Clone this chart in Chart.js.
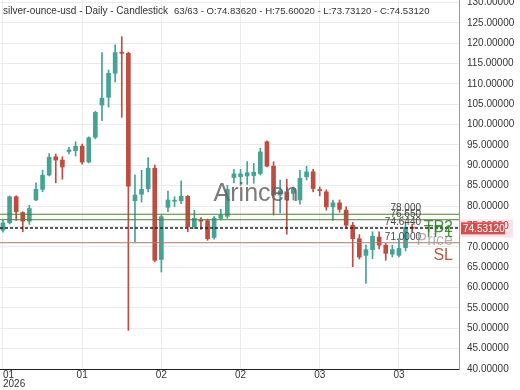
<!DOCTYPE html>
<html>
<head>
<meta charset="utf-8">
<script src="https://cdn.jsdelivr.net/npm/chart.js@4.4.1/dist/chart.umd.min.js"></script>
<style>
  html, body { margin: 0; padding: 0; background: #fff; }
  #candles { display: block; }
</style>
</head>
<body>
<canvas id="candles" width="520" height="390"></canvas>
<script>
/* ================= Data ================= */

const opens  = [74.1, 75.9, 82.3, 78.4, 76.3, 81.5, 84.1, 87.6, 92.1, 91.3,
                93.4, 93.6, 94.7, 90.8, 96.9, 104.8, 106.7, 112.6, 117.8, 117.5,
                81.3, 82.9, 84.3, 89.3, 66.9, 79.7, 81.2, 81.3, 82.4, 74.9,
                76.6, 76.4, 72.3, 77.0, 77.5, 87.0, 87.2, 87.4, 87.5, 88.0,
                95.8, 89.8, 82.7, 83.5, 83.1, 81.5, 87.2, 88.4, 84.0, 83.5,
                79.8, 80.8, 79.0, 75.3, 72.0, 67.9, 69.3, 72.4, 70.4, 68.2,
                67.9, 69.8, 74.8362];
const highs  = [76.5, 82.5, 82.5, 78.6, 80.2, 85.7, 88.8, 92.9, 92.8, 92.1,
                94.4, 95.8, 95.2, 97.0, 103.3, 117.7, 113.4, 119.6, 121.6, 117.8,
                87.6, 88.8, 91.9, 90.1, 77.8, 83.7, 82.3, 86.2, 82.6, 79.0,
                77.2, 76.8, 77.5, 79.2, 85.1, 89.0, 89.0, 90.9, 90.5, 94.2,
                96.0, 90.9, 86.4, 86.6, 84.7, 88.8, 89.8, 89.0, 84.7, 84.0,
                81.5, 81.5, 79.8, 76.0, 73.0, 70.4, 73.7, 73.7, 70.8, 70.4,
                72.0, 75.8, 75.6002];
const lows   = [73.6, 75.6, 76.5, 73.7, 75.5, 81.3, 83.5, 87.4, 85.7, 86.6,
                92.8, 92.3, 90.3, 90.6, 96.5, 101.0, 104.3, 110.5, 101.8, 49.5,
                71.2, 81.0, 83.5, 66.3, 63.8, 78.6, 79.9, 80.6, 73.7, 74.5,
                74.3, 71.6, 71.9, 76.6, 77.0, 85.7, 85.1, 85.3, 85.6, 87.6,
                89.6, 77.8, 78.3, 73.1, 81.5, 80.5, 86.4, 83.5, 82.5, 79.0,
                76.5, 78.5, 74.5, 65.1, 67.0, 61.0, 67.1, 69.5, 66.7, 67.5,
                67.5, 69.0, 73.7312];
const closes = [75.9, 82.3, 78.6, 76.3, 79.4, 84.1, 87.6, 92.0, 91.3, 89.6,
                93.8, 94.7, 90.8, 96.8, 103.0, 106.5, 112.6, 117.7, 117.5, 84.9,
                82.7, 84.1, 89.3, 66.7, 77.4, 81.5, 81.4, 82.4, 74.9, 77.0,
                76.3, 72.0, 77.0, 77.8, 84.1, 87.9, 87.9, 88.2, 88.3, 93.3,
                89.8, 82.7, 83.8, 81.5, 84.3, 86.8, 88.4, 84.3, 83.8, 79.8,
                80.8, 79.2, 75.3, 72.0, 67.5, 69.3, 72.6, 70.4, 68.4, 69.3,
                69.6, 74.8, 74.5312];

const tickBars   = [0, 12, 24, 36, 48, 60];
const tickLabels = [['01', '2026'], '01', '02', '02', '03', '03'];

const levelValues = [78, 76.65, 74.644, 71];
const levelLabels = ['78.000', '76.650', '74.6440', '71.0000'];
const tagLabels   = ['TP2', 'TP1', 'Price', 'SL'];
const lastPrice   = 74.5312;

/* ================= Styles ================= */

const upColor = '#45a396';
const downColor = '#bf4c40';
const levelColors = ['#4f7f2f', '#4f7f2f', '#222222', '#b07a6c'];
const tagColors = ['rgba(40,130,30,0.85)', 'rgba(40,130,30,0.85)', 'rgba(150,150,150,0.7)', 'rgba(176,72,50,0.9)'];
const xMin = -0.45, xMax = 69.1;
const font = "'Liberation Sans', Arial, sans-serif";

const candleColors = opens.map((o, i) => closes[i] >= o ? upColor : downColor);

/* ================= Plugin for texts ================= */

const overlay = {
  id: 'overlay',
  afterDatasetsDraw(chart) {
    const c = chart.ctx;
    const y = chart.scales.y;
    c.save();
    // watermark
    c.font = '25px ' + font;
    c.fillStyle = 'rgba(100,100,100,0.85)';
    c.textAlign = 'center';
    c.textBaseline = 'middle';
    c.fillText('Arincen', 256, 194);

    // level labels
    c.font = '10px ' + font;
    c.fillStyle = '#444';
    c.textAlign = 'right';
    c.textBaseline = 'bottom';
    levelValues.forEach((v, i) => {
      c.fillText(levelLabels[i], 421, y.getPixelForValue(v) - 0.5);
    });

    // big tags
    c.font = '16px ' + font;
    c.textBaseline = 'middle';
    levelValues.forEach((v, i) => {
      c.fillStyle = tagColors[i];
      c.fillText(tagLabels[i], 453, y.getPixelForValue(v) + 13);
    });
    c.restore();
  },
  afterDraw(chart) {
    const c = chart.ctx;
    const y = chart.scales.y;
    c.save();
    // header
    c.font = '10px ' + font;
    c.fillStyle = '#333';
    c.textAlign = 'left';
    c.textBaseline = 'middle';
    c.fillText('silver-ounce-usd - Daily - Candlestick', 3, 11);
    c.font = '9.6px ' + font;
    c.fillText('63/63 - O:74.83620 - H:75.60020 - L:73.73120 - C:74.53120', 174, 11);

    // last price box
    const py = y.getPixelForValue(lastPrice);
    c.fillStyle = 'rgba(255,160,180,0.3)';
    c.fillRect(459, py - 9, 54, 18);
    c.fillStyle = '#d24f4f';
    c.fillRect(461, py - 6, 44, 12);
    c.font = '10px ' + font;
    c.fillStyle = '#fff';
    c.fillText(lastPrice.toFixed(5), 463, py + 0.5);
    c.restore();
  }
};

/* ================= Candlestick Chart ================= */

const ctx = document.getElementById('candles');

Chart.defaults.font.family = font;
Chart.defaults.font.size = 10;
Chart.defaults.color = '#333';

new Chart(ctx, {
  type: 'bar',
  data: {
    datasets: [
      {
        label: 'body',
        data: opens.map((o, i) => ({ x: i, y: [o, closes[i]] })),
        backgroundColor: candleColors,
        barThickness: 4,
        minBarLength: 1,
        grouped: false,
        order: 2
      },
      {
        label: 'wick',
        data: lows.map((l, i) => ({ x: i, y: [l, highs[i]] })),
        backgroundColor: candleColors,
        barThickness: 1,
        grouped: false,
        order: 3
      },
      ...levelValues.map((v, i) => ({
        type: 'line',
        label: levelLabels[i],
        data: [{ x: xMin, y: v }, { x: xMax, y: v }],
        borderColor: levelColors[i],
        borderWidth: i === 2 ? 1.5 : 1,
        borderDash: i === 2 ? [3, 2] : [],
        pointRadius: 0,
        order: 1
      }))
    ]
  },
  options: {
    responsive: false,
    animation: false,
    layout: { padding: 0 },
    plugins: {
      legend: { display: false },
      tooltip: { enabled: false }
    },
    scales: {
      x: {
        type: 'linear',
        min: xMin,
        max: xMax,
        offset: false,
        grid: { offset: false, color: '#ebebeb', drawTicks: false },
        border: { color: '#222' },
        ticks: {
          autoSkip: false,
          maxRotation: 0,
          align: 'inner',
          padding: 1,
          color: '#333',
          font: { size: 10, lineHeight: 0.95 },
          callback: (v, i) => i < tickLabels.length ? tickLabels[i] : ''
        },
        afterBuildTicks: (scale) => {
          scale.ticks = tickBars.map(v => ({ value: v })).concat([{ value: xMax }]);
        },
        afterFit: (scale) => {
          scale.height = 21;
          scale.paddingLeft = 0;
          scale.paddingRight = 0;
        }
      },
      y: {
        position: 'right',
        min: 40,
        max: 130.6,
        grid: { color: '#ebebeb', drawTicks: false },
        border: { color: '#999' },
        ticks: {
          stepSize: 5,
          includeBounds: false,
          padding: 8,
          color: '#333',
          callback: (v) => v.toFixed(5)
        },
        afterFit: (scale) => {
          scale.width = 61;
          scale.paddingTop = 0;
          scale.paddingBottom = 0;
        }
      }
    }
  },
  plugins: [overlay]
});
</script>
</body>
</html>
